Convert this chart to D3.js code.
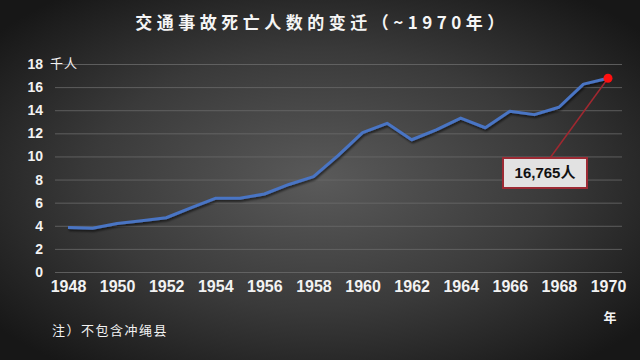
<!DOCTYPE html>
<html>
<head>
<meta charset="utf-8">
<script src="https://cdn.jsdelivr.net/npm/d3@7"></script>
<style>
  html, body { margin: 0; padding: 0; background: #222; }
  svg { display: block; }
  .tick text { font-family: "Liberation Sans", Arial, sans-serif; font-weight: bold; }
</style>
</head>
<body>
<svg id="chart" width="640" height="360"></svg>
<script>
// traffic accident deaths in Japan (thousands), 1948-1970
const years = d3.range(1948, 1971);
const deaths = [3.848, 3.790, 4.202, 4.429, 4.696, 5.544, 6.374, 6.379, 6.751, 7.575, 8.248,
                10.079, 12.055, 12.865, 11.445, 12.301, 13.318, 12.484, 13.904, 13.618, 14.256,
                16.257, 16.765];
const yTicks = [0, 2, 4, 6, 8, 10, 12, 14, 16, 18];
const xTicks = [1948, 1950, 1952, 1954, 1956, 1958, 1960, 1962, 1964, 1966, 1968, 1970];
const title = "交通事故死亡人数的变迁（~1970年）";
const note = "注）不包含冲绳县";
const calloutText = "16,765人";

const svg = d3.select("#chart");
const W = 640, H = 360;

// background
const defs = svg.append("defs");
const grad = defs.append("radialGradient").attr("id", "bg")
    .attr("cx", "50%").attr("cy", "50%").attr("r", "65%");
grad.append("stop").attr("offset", "0%").attr("stop-color", "#5a5a5a");
grad.append("stop").attr("offset", "55%").attr("stop-color", "#3a3a3a");
grad.append("stop").attr("offset", "100%").attr("stop-color", "#171717");
svg.append("rect").attr("width", W).attr("height", H).attr("fill", "url(#bg)");

const shadow = defs.append("filter").attr("id", "shadow")
    .attr("x", "-5%").attr("y", "-5%").attr("width", "110%").attr("height", "120%");
shadow.append("feDropShadow").attr("dx", 1).attr("dy", 2).attr("stdDeviation", 1.2)
    .attr("flood-color", "#000").attr("flood-opacity", 0.6);

let x = d3.scaleLinear().domain([1948, 1970]).range([68, 608]);
let y = d3.scaleLinear().domain([0, 18]).range([272, 64]);

// grid + y labels
const gridLeft = 55, gridRight = 622;
let yAxis = svg.append("g")
    .attr("transform", "translate(" + gridLeft + ",0)")
    .call(d3.axisLeft(y).tickValues(yTicks).tickSize(-(gridRight - gridLeft)).tickPadding(12));
yAxis.select(".domain").remove();
yAxis.selectAll(".tick line").attr("stroke", "#6a6a6a").attr("stroke-width", 1).attr("opacity", 0.8);
yAxis.selectAll(".tick text").attr("fill", "#f2f2f2").attr("font-size", 14);

// x labels
let xAxis = svg.append("g")
    .attr("transform", "translate(0,272)")
    .call(d3.axisBottom(x).tickValues(xTicks).tickFormat(d3.format("d")).tickSize(0).tickPadding(9));
xAxis.select(".domain").remove();
xAxis.selectAll(".tick text")
    .attr("fill", "#f2f2f2")
    .attr("font-size", 16)
    .style("font-family", "'Liberation Sans Narrow', 'Arial Narrow', sans-serif");

// line
const line = d3.line().x((d, i) => x(years[i])).y(d => y(d));
svg.append("path")
    .datum(deaths)
    .attr("d", line)
    .attr("fill", "none")
    .attr("stroke", "#4a74c4")
    .attr("stroke-width", 3)
    .attr("stroke-linejoin", "round")
    .attr("filter", "url(#shadow)");

// callout
const last = deaths.length - 1;
const px = x(years[last]), py = y(deaths[last]);
svg.append("line")
    .attr("x1", px).attr("y1", py)
    .attr("x2", 550).attr("y2", 158)
    .attr("stroke", "#a02830").attr("stroke-width", 1.5);
svg.append("rect")
    .attr("x", 503).attr("y", 158).attr("width", 84).attr("height", 30)
    .attr("fill", "#e2e2e2").attr("stroke", "#9c2a34").attr("stroke-width", 2);
svg.append("text")
    .attr("x", 545).attr("y", 178)
    .attr("text-anchor", "middle")
    .attr("font-family", "'Liberation Sans', 'Noto Sans CJK SC', sans-serif")
    .attr("font-weight", "bold").attr("font-size", 15)
    .attr("fill", "#111")
    .text(calloutText);
svg.append("circle")
    .attr("cx", px).attr("cy", py).attr("r", 4.5)
    .attr("fill", "#ff1010");

// texts
svg.append("text")
    .attr("x", 322).attr("y", 29)
    .attr("text-anchor", "middle")
    .attr("font-family", "'Noto Sans CJK SC', sans-serif")
    .attr("font-weight", "bold").attr("font-size", 17)
    .attr("letter-spacing", 4.5)
    .attr("fill", "#f5f5f5")
    .text(title);

svg.append("text")
    .attr("x", 50).attr("y", 68)
    .attr("font-family", "'Noto Sans CJK SC', sans-serif")
    .attr("font-size", 13).attr("letter-spacing", 1)
    .attr("fill", "#f2f2f2")
    .text("千人");

svg.append("text")
    .attr("x", 610).attr("y", 322)
    .attr("text-anchor", "middle")
    .attr("font-family", "'Noto Sans CJK SC', sans-serif")
    .attr("font-weight", "bold").attr("font-size", 13)
    .attr("fill", "#f2f2f2")
    .text("年");

svg.append("text")
    .attr("x", 52).attr("y", 335)
    .attr("font-family", "'Noto Sans CJK SC', sans-serif")
    .attr("font-size", 13).attr("letter-spacing", 1.5)
    .attr("fill", "#f2f2f2")
    .text(note);
</script>
</body>
</html>
